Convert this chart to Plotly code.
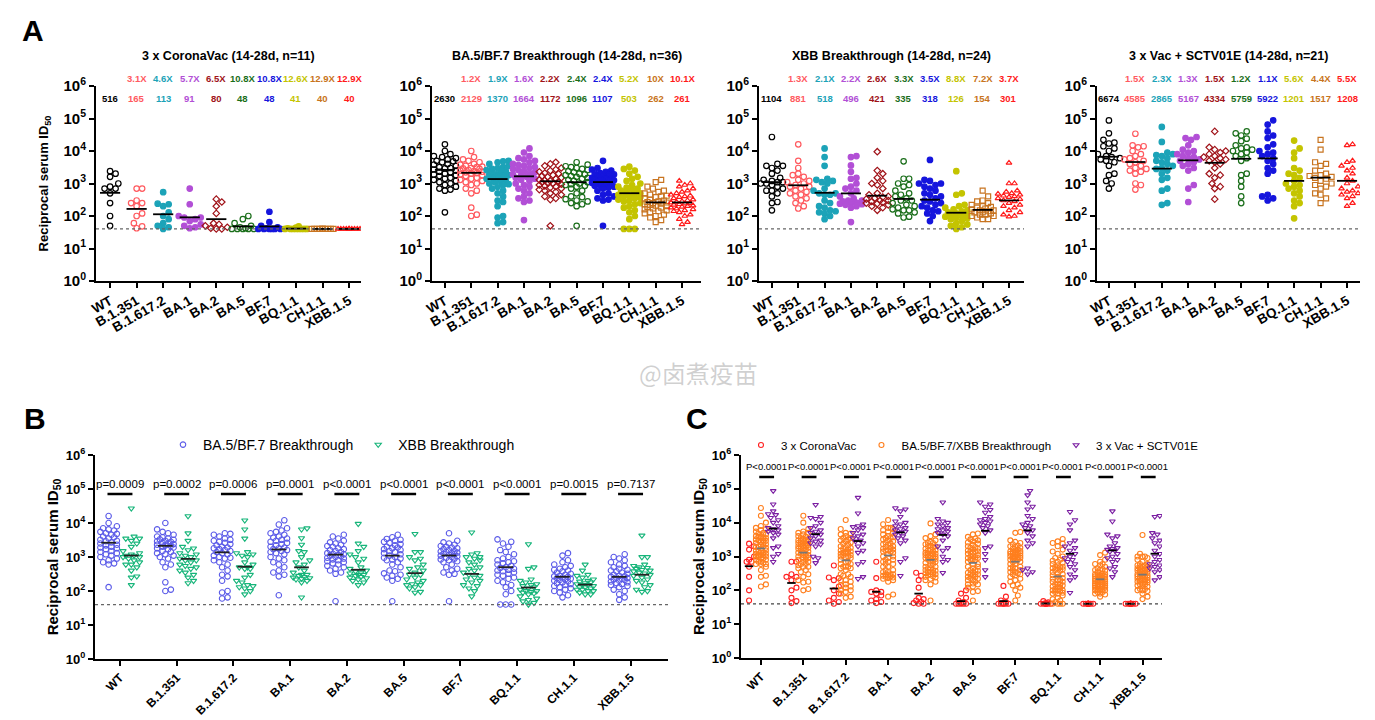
import numpy as np
import plotly.graph_objects as go

W, H = 1375, 720

variants = ["WT", "B.1.351", "B.1.617.2", "BA.1", "BA.2", "BA.5", "BF.7", "BQ.1.1", "CH.1.1", "XBB.1.5"]
colors = ["#000000", "#FF5A5F", "#1CA3B8", "#B24FD6", "#A01218", "#1A6E1A", "#1515DD", "#C4C400", "#C87420", "#FF1A1A"]
symbols = ["circle-open", "circle-open", "circle", "circle", "diamond-open", "circle-open", "circle", "circle",
           "square-open", "triangle-up-open"]

# ---------------- data (reciprocal serum ID50), one list per variant ----------------
coronavac = [
    [2400, 2000, 1600, 1000, 800, 700, 700, 500, 250, 100, 50],
    [700, 700, 300, 250, 250, 200, 120, 100, 60, 48, 42],
    [540, 240, 230, 200, 130, 100, 80, 60, 50, 45, 40],
    [700, 230, 100, 90, 90, 80, 70, 55, 50, 45, 42],
    [330, 270, 200, 120, 60, 55, 50, 45, 42, 40, 40],
    [100, 80, 60, 50, 45, 42, 40, 40, 40, 40, 40],
    [135, 65, 50, 45, 42, 40, 40, 40, 40, 40, 40],
    [48, 44, 42, 40, 40, 40, 40, 40, 40, 40, 40],
    [40, 40, 40, 40, 40, 40, 40, 40, 40, 40, 40],
    [40, 40, 40, 40, 40, 40, 40, 40, 40, 40, 40],
]
ba5bf7 = [
    [16000, 10000, 8000, 7000, 6500, 6000, 5500, 5000, 4800, 4500, 4000, 3800, 3500, 3200, 3000, 2900, 2700, 2500,
     2300, 2200, 2000, 1900, 1800, 1700, 1500, 1400, 1300, 1200, 1100, 1000, 900, 800, 700, 650, 600, 130],
    [10000, 6500, 5500, 5000, 4500, 4000, 3800, 3500, 3300, 3200, 3000, 2900, 2800, 2600, 2500, 2400, 2300, 2200,
     2100, 2000, 1900, 1800, 1700, 1500, 1400, 1300, 1200, 1100, 1000, 900, 700, 600, 500, 180, 110, 100],
    [5000, 4800, 4500, 4000, 3500, 3200, 3000, 2800, 2600, 2400, 2200, 2000, 1900, 1800, 1700, 1600, 1500, 1400,
     1300, 1200, 1100, 1000, 950, 900, 800, 700, 600, 500, 400, 300, 270, 200, 100, 90, 65, 60],
    [12000, 9000, 7000, 6000, 5500, 5000, 4500, 4000, 3700, 3500, 3200, 3000, 2800, 2600, 2400, 2200, 2000, 1900,
     1800, 1700, 1600, 1500, 1400, 1300, 1200, 1000, 900, 800, 700, 600, 500, 400, 350, 300, 270, 75],
    [4500, 4000, 3500, 3000, 2700, 2500, 2300, 2100, 2000, 1800, 1700, 1600, 1500, 1400, 1300, 1250, 1200, 1150,
     1100, 1050, 1000, 950, 900, 850, 800, 750, 700, 650, 600, 550, 500, 450, 400, 350, 320, 50],
    [4500, 3800, 3400, 3200, 3000, 2800, 2600, 2400, 2200, 2000, 1900, 1800, 1700, 1600, 1500, 1400, 1300, 1200,
     1100, 1000, 950, 900, 850, 800, 700, 600, 500, 400, 380, 330, 300, 280, 250, 230, 200, 50],
    [5000, 3000, 2700, 2500, 2300, 2100, 2000, 1900, 1800, 1700, 1600, 1500, 1450, 1400, 1350, 1300, 1250, 1200,
     1150, 1100, 1050, 1000, 950, 900, 850, 800, 750, 700, 600, 500, 450, 400, 350, 320, 300, 50],
    [3300, 2800, 2500, 2000, 1600, 1400, 1200, 1000, 900, 800, 750, 700, 650, 600, 550, 500, 480, 450, 420, 400,
     380, 350, 320, 300, 280, 250, 230, 200, 180, 150, 130, 100, 80, 40, 40, 40],
    [1300, 1100, 800, 700, 600, 550, 500, 450, 420, 400, 380, 350, 320, 300, 280, 270, 260, 250, 240, 230, 220,
     210, 200, 190, 180, 170, 160, 150, 140, 130, 120, 110, 100, 90, 75, 65],
    [1200, 1000, 900, 800, 700, 600, 550, 500, 450, 420, 400, 380, 350, 320, 300, 280, 270, 260, 250, 240, 230,
     220, 210, 200, 190, 180, 170, 160, 150, 140, 130, 110, 100, 80, 65, 55],
]
xbb = [
    [27000, 4000, 3500, 3500, 3000, 2500, 2000, 1500, 1300, 1200, 1100, 1100, 1000, 1000, 900, 800, 700, 600, 600,
     500, 400, 270, 250, 150],
    [16000, 5000, 3000, 2000, 1800, 1600, 1300, 1200, 1100, 1000, 900, 800, 800, 700, 600, 550, 500, 450, 400, 350,
     300, 250, 200, 170],
    [12000, 6500, 3500, 1400, 1300, 1200, 1100, 1000, 700, 600, 500, 500, 450, 450, 300, 250, 200, 180, 150, 140,
     130, 120, 100, 80],
    [7000, 6500, 3600, 2300, 1500, 1400, 1000, 800, 700, 600, 500, 400, 350, 300, 300, 280, 260, 250, 240, 230, 220,
     200, 180, 65],
    [9500, 2500, 2000, 1500, 1200, 1000, 900, 700, 500, 450, 400, 380, 350, 330, 300, 300, 280, 260, 250, 240, 220,
     200, 180, 150],
    [4800, 1400, 1400, 1000, 900, 800, 600, 500, 450, 400, 350, 300, 300, 250, 220, 200, 180, 160, 150, 150, 130,
     120, 95, 90],
    [5300, 1300, 1200, 1000, 1000, 900, 800, 700, 600, 500, 450, 400, 350, 300, 280, 250, 220, 200, 180, 150, 140,
     120, 100, 70],
    [2400, 500, 450, 220, 200, 180, 160, 150, 140, 130, 120, 110, 100, 100, 95, 90, 85, 80, 70, 60, 55, 50, 45, 40],
    [600, 400, 300, 280, 250, 220, 200, 190, 180, 170, 160, 150, 150, 140, 130, 130, 120, 110, 110, 100, 100, 90,
     80, 80],
    [4300, 1000, 1000, 600, 550, 500, 480, 450, 420, 400, 380, 350, 330, 300, 280, 250, 220, 200, 180, 150, 130,
     110, 100, 95],
]
sctv01e = [
    [87000, 35000, 22000, 18000, 17000, 14000, 12000, 10000, 8000, 7000, 6500, 6000, 5500, 5000, 4500, 3500, 2000,
     1800, 1200, 1000, 700],
    [34000, 15000, 14000, 13000, 10000, 8000, 7000, 6000, 5500, 5000, 4500, 4000, 3500, 3000, 2800, 2500, 2300,
     2000, 1000, 900, 650],
    [55000, 19000, 9000, 8000, 7500, 7000, 6000, 5000, 4500, 4000, 3500, 3000, 2800, 2500, 2000, 1500, 1300, 700,
     600, 250, 220],
    [27000, 25000, 22000, 15000, 11000, 10000, 9000, 8000, 7000, 6500, 6000, 5500, 5000, 4500, 4000, 3500, 3000,
     2500, 900, 700, 270],
    [40000, 13000, 11000, 10000, 9000, 8000, 7000, 6500, 6000, 5500, 5000, 4500, 4000, 3000, 2000, 1800, 1500, 1000,
     800, 700, 330],
    [40000, 35000, 30000, 24000, 20000, 15000, 13000, 12000, 11000, 10000, 9000, 8000, 7000, 6000, 5000, 2000, 1800,
     1200, 800, 400, 250],
    [88000, 65000, 40000, 30000, 25000, 16000, 13000, 10000, 9000, 8000, 7000, 6000, 5000, 4000, 3000, 2500, 2000,
     450, 400, 350, 300],
    [21000, 12000, 9000, 6000, 3000, 2500, 2000, 1800, 1500, 1200, 1000, 900, 800, 700, 600, 500, 400, 300, 250, 200,
     85],
    [22000, 11000, 4500, 4000, 3500, 2500, 2000, 1800, 1700, 1600, 1500, 1400, 1200, 1000, 900, 800, 700, 500, 450,
     350, 250],
    [16000, 15000, 5000, 4500, 3500, 3000, 2500, 2000, 1500, 1200, 1000, 800, 700, 600, 550, 500, 450, 400, 350, 250,
     200],
]

gmt_coronavac = [516, 165, 113, 91, 80, 48, 48, 41, 40, 40]
fold_coronavac = ["", "3.1X", "4.6X", "5.7X", "6.5X", "10.8X", "10.8X", "12.6X", "12.9X", "12.9X"]
gmt_ba5bf7 = [2630, 2129, 1370, 1664, 1172, 1096, 1107, 503, 262, 261]
fold_ba5bf7 = ["", "1.2X", "1.9X", "1.6X", "2.2X", "2.4X", "2.4X", "5.2X", "10X", "10.1X"]
gmt_xbb = [1104, 881, 518, 496, 421, 335, 318, 126, 154, 301]
fold_xbb = ["", "1.3X", "2.1X", "2.2X", "2.6X", "3.3X", "3.5X", "8.8X", "7.2X", "3.7X"]
gmt_sctv01e = [6674, 4585, 2865, 5167, 4334, 5759, 5922, 1201, 1517, 1208]
fold_sctv01e = ["", "1.5X", "2.3X", "1.3X", "1.5X", "1.2X", "1.1X", "5.6X", "4.4X", "5.5X"]

titles_a = ["3 x CoronaVac (14-28d, n=11)", "BA.5/BF.7 Breakthrough (14-28d, n=36)",
            "XBB Breakthrough (14-28d, n=24)", "3 x Vac + SCTV01E (14-28d, n=21)"]
p_values_b = ["p=0.0009", "p=0.0002", "p=0.0006", "p=0.0001", "p<0.0001", "p<0.0001", "p<0.0001", "p<0.0001",
              "p=0.0015", "p=0.7137"]
p_values_c = ["P<0.0001"] * 10
LOD = 40

# ---------------- helpers ----------------
def px(x):
    return x / W


def py(y):
    return 1 - y / H


def swarm(vals, ppd, ppc, d, maxpx):
    """deterministic beeswarm offsets (category units)"""
    yv = np.log10(np.asarray(vals, float)) * ppd
    order = np.argsort(yv, kind="stable")
    step = d * 0.5
    cands = [0.0]
    k = 1
    while k * step <= maxpx + 1e-9:
        cands += [k * step, -k * step]
        k += 1
    placed = []
    off = np.zeros(len(vals))
    for i in order:
        best, bestscore = 0.0, -1
        for c in cands:
            mind = min([np.hypot(a - c, b - yv[i]) for a, b in placed], default=1e9)
            if mind >= d:
                best = c
                break
            if mind > bestscore:
                bestscore, best = mind, c
        placed.append((best, yv[i]))
        off[i] = best
    return off / ppc


tickvals = [10 ** k for k in range(7)]
font = "Liberation Sans"
narrow = "Liberation Sans Narrow, Liberation Sans"

fig = go.Figure()
layout = dict(width=W, height=H, margin=dict(l=0, r=0, t=0, b=0, autoexpand=False), paper_bgcolor="white",
              plot_bgcolor="white", font=dict(family=font, color="black"), showlegend=True)
annotations = []
shapes = []


def axis_pair(n, xd, yd, xr, ytick_size, xtick_size, tickangle, ytitle=None, ytitle_size=14, standoff=8):
    xs = "" if n == 1 else str(n)
    layout["xaxis" + xs] = dict(domain=[px(xd[0]), px(xd[1])], range=list(xr), anchor="y" + xs,
                                tickvals=list(range(10)), automargin=False,
                                ticktext=["<b>%s</b>" % v for v in variants], tickangle=tickangle,
                                tickfont=dict(size=xtick_size, family=font, color="black"),
                                showline=True, linewidth=2, linecolor="black", ticks="outside",
                                ticklen=5, tickwidth=2, tickcolor="black", showgrid=False, zeroline=False)
    yax = dict(domain=[py(yd[1]), py(yd[0])], type="log", range=[0, 6], anchor="x" + xs, automargin=False,
               tickvals=tickvals, ticktext=["<b>10<sup>%d</sup></b>" % k for k in range(7)],
               tickfont=dict(size=ytick_size, family=font, color="black"),
               showline=True, linewidth=2, linecolor="black", ticks="outside", ticklen=5, tickwidth=2,
               tickcolor="black", showgrid=False, zeroline=False)
    if ytitle:
        yax["title"] = dict(text=ytitle, font=dict(size=ytitle_size, family=font, color="black"),
                            standoff=standoff)
    layout["yaxis" + xs] = yax
    return "x" + xs, "y" + xs


def note(x, y, text, size, color="black", xref="paper", family=font, xanchor="center"):
    annotations.append(dict(x=x, y=y, xref=xref, yref="paper", text=text, showarrow=False, xanchor=xanchor,
                            yanchor="middle", font=dict(size=size, color=color, family=family)))


ytitle = "<b>Reciprocal serum ID<sub>50</sub></b>"

# ---------------- panel A ----------------
A_x = [(88, 353, (-0.53, 9.45)), (424, 693, (-0.49, 9.72)), (751, 1016, (-0.49, 9.57)),
       (1089, 1352, (-0.45, 9.49))]
A_y = (78, 273)
cohorts = [(coronavac, gmt_coronavac, fold_coronavac), (ba5bf7, gmt_ba5bf7, fold_ba5bf7),
           (xbb, gmt_xbb, fold_xbb), (sctv01e, gmt_sctv01e, fold_sctv01e)]
for k, ((x0, x1, xr), (data, gmts, folds)) in enumerate(zip(A_x, cohorts)):
    xa, ya = axis_pair(k + 1, (x0, x1), A_y, xr, 15, 13.5, -30, ytitle if k == 0 else None, 13, 12)
    ppc = (x1 - x0) / (xr[1] - xr[0])
    ppd = (A_y[1] - A_y[0]) / 6
    for i in range(10):
        off = swarm(data[i], ppd, ppc, 5.5, 11)
        msize = 5 if symbols[i] in ("diamond-open", "square-open", "triangle-up-open") else 5.5
        fig.add_trace(go.Scatter(x=i + off, y=data[i], mode="markers", xaxis=xa, yaxis=ya, showlegend=False,
                                 hoverinfo="skip",
                                 marker=dict(symbol=symbols[i], color=colors[i], size=msize,
                                             line=dict(width=1.2, color=colors[i]))))
        note(i, py(90), "<b>%d</b>" % gmts[i], 9.5, colors[i], xref=xa)
        if folds[i]:
            note(i, py(71), "<b>%s</b>" % folds[i], 9.5, colors[i], xref=xa)
    mx, my = [], []
    for i in range(10):
        mx += [i - 0.38, i + 0.38, None]
        my += [gmts[i], gmts[i], None]
    fig.add_trace(go.Scatter(x=mx, y=my, mode="lines", xaxis=xa, yaxis=ya, showlegend=False, hoverinfo="skip",
                             line=dict(color="black", width=1.8)))
    fig.add_trace(go.Scatter(x=list(xr), y=[LOD, LOD], mode="lines", xaxis=xa, yaxis=ya, showlegend=False,
                             hoverinfo="skip", line=dict(color="#666666", width=1.2, dash="dot")))
    note(px((x0 + x1) / 2), py(48), "<b>%s</b>" % titles_a[k], 12.5)

# ---------------- panel B ----------------
B_xr = (-0.44, 9.66)
xa, ya = axis_pair(5, (87, 660), (447, 651), B_xr, 13, 12, -45, ytitle, 15, 4)
ppc = (660 - 87) / (B_xr[1] - B_xr[0])
ppd = 204 / 6
bx, by, gx, gy, mx, my = [], [], [], [], [], []
for i in range(10):
    bx += list(i - 0.2 + swarm(ba5bf7[i], ppd, ppc, 5.5, 9))
    by += ba5bf7[i]
    gx += list(i + 0.2 + swarm(xbb[i], ppd, ppc, 5.5, 9))
    gy += xbb[i]
    mx += [i - 0.33, i - 0.07, None, i + 0.07, i + 0.33, None]
    my += [gmt_ba5bf7[i]] * 2 + [None] + [gmt_xbb[i]] * 2 + [None]
    shapes.append(dict(type="line", xref=xa, yref="paper", x0=i - 0.22, x1=i + 0.22, y0=py(486), y1=py(486),
                       line=dict(color="black", width=2.5)))
    note(i, py(476), p_values_b[i], 11.5, xref=xa)
fig.add_trace(go.Scatter(x=bx, y=by, mode="markers", xaxis=xa, yaxis=ya, name="BA.5/BF.7 Breakthrough",
                         legend="legend", hoverinfo="skip",
                         marker=dict(symbol="circle-open", color="#5B5BE8", size=5.5, line=dict(width=1.1))))
fig.add_trace(go.Scatter(x=gx, y=gy, mode="markers", xaxis=xa, yaxis=ya, name="XBB Breakthrough",
                         legend="legend", hoverinfo="skip",
                         marker=dict(symbol="triangle-down-open", color="#17B57A", size=5.5, line=dict(width=1.1))))
fig.add_trace(go.Scatter(x=mx, y=my, mode="lines", xaxis=xa, yaxis=ya, showlegend=False, hoverinfo="skip",
                         line=dict(color="#222222", width=1.8)))
fig.add_trace(go.Scatter(x=list(B_xr), y=[LOD, LOD], mode="lines", xaxis=xa, yaxis=ya, showlegend=False,
                         hoverinfo="skip", line=dict(color="#666666", width=1.2, dash="dot")))

# ---------------- panel C ----------------
C_xr = (-0.47, 9.46)
xa, ya = axis_pair(6, (733, 1154), (447, 650), C_xr, 13, 12, -45, ytitle, 15, 4)
ppc = (1154 - 733) / (C_xr[1] - C_xr[0])
ppd = 203 / 6
rx, ry, ox, oy, ux, uy, mx, my, gx2, gy2 = [], [], [], [], [], [], [], [], [], []
for i in range(10):
    comb = ba5bf7[i] + xbb[i]
    gm_comb = float(np.exp(np.mean(np.log(comb))))
    rx += list(i - 0.28 + swarm(coronavac[i], ppd, ppc, 5.0, 6))
    ry += coronavac[i]
    ox += list(i + swarm(comb, ppd, ppc, 5.0, 7))
    oy += comb
    ux += list(i + 0.29 + swarm(sctv01e[i], ppd, ppc, 5.0, 6))
    uy += sctv01e[i]
    mx += [i - 0.38, i - 0.18, None, i + 0.19, i + 0.39, None]
    my += [gmt_coronavac[i]] * 2 + [None] + [gmt_sctv01e[i]] * 2 + [None]
    gx2 += [i - 0.1, i + 0.1, None]
    gy2 += [gm_comb, gm_comb, None]
    shapes.append(dict(type="line", xref=xa, yref="paper", x0=i - 0.04, x1=i + 0.31, y0=py(469), y1=py(469),
                       line=dict(color="black", width=2.5)))
    note(i + 0.12, py(459), p_values_c[i], 9.5, xref=xa, family=narrow)
fig.add_trace(go.Scatter(x=rx, y=ry, mode="markers", xaxis=xa, yaxis=ya, name="3 x CoronaVac",
                         legend="legend2", hoverinfo="skip",
                         marker=dict(symbol="circle-open", color="#FF2020", size=5, line=dict(width=1.1))))
fig.add_trace(go.Scatter(x=ox, y=oy, mode="markers", xaxis=xa, yaxis=ya, name="BA.5/BF.7/XBB Breakthrough",
                         legend="legend2", hoverinfo="skip",
                         marker=dict(symbol="circle-open", color="#FF7F1E", size=5, line=dict(width=1.1))))
fig.add_trace(go.Scatter(x=ux, y=uy, mode="markers", xaxis=xa, yaxis=ya, name="3 x Vac + SCTV01E",
                         legend="legend2", hoverinfo="skip",
                         marker=dict(symbol="triangle-down-open", color="#7B1FA2", size=5, line=dict(width=1.1))))
fig.add_trace(go.Scatter(x=mx, y=my, mode="lines", xaxis=xa, yaxis=ya, showlegend=False, hoverinfo="skip",
                         line=dict(color="black", width=1.8)))
fig.add_trace(go.Scatter(x=gx2, y=gy2, mode="lines", xaxis=xa, yaxis=ya, showlegend=False, hoverinfo="skip",
                         line=dict(color="#777777", width=1.8)))
fig.add_trace(go.Scatter(x=list(C_xr), y=[LOD, LOD], mode="lines", xaxis=xa, yaxis=ya, showlegend=False,
                         hoverinfo="skip", line=dict(color="#444444", width=1.2, dash="dot")))

# ---------------- legends, letters, watermark ----------------
layout["legend"] = dict(x=px(155), y=py(437), xanchor="left", yanchor="middle", orientation="h",
                        font=dict(size=14, family=font), bgcolor="rgba(0,0,0,0)", itemwidth=30)
layout["legend2"] = dict(x=px(733), y=py(437), xanchor="left", yanchor="middle", orientation="h",
                         font=dict(size=11.5, family=narrow), bgcolor="rgba(0,0,0,0)", itemwidth=30)
for letter, (lx, ly) in zip("ABC", [(12, 22), (14, 410), (676, 410)]):
    note(px(lx), py(ly), "<b>%s</b>" % letter, 30, xanchor="left")
note(px(690), py(364), "@卤煮疫苗", 24, "rgba(120,120,120,0.35)", family="Noto Sans CJK SC")
layout["annotations"] = annotations
layout["shapes"] = shapes
fig.update_layout(**layout)
fig.write_html("out.html")
